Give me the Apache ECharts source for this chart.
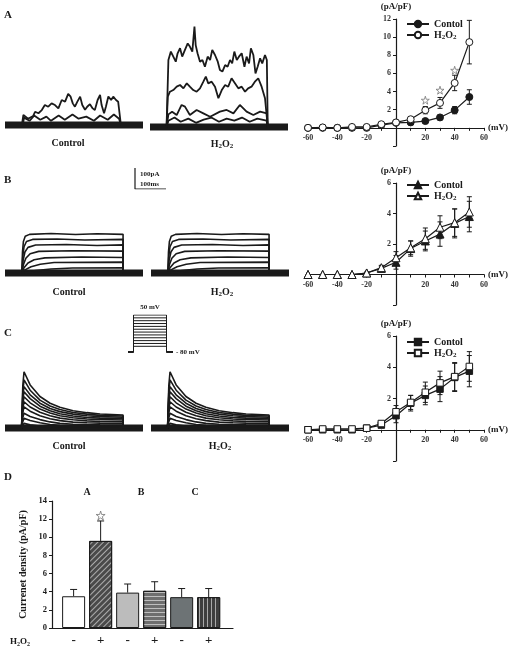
<!DOCTYPE html>
<html>
<head>
<meta charset="utf-8">
<script src="https://cdn.jsdelivr.net/npm/echarts@6/dist/echarts.min.js"></script>
<style>
  html, body { margin: 0; padding: 0; background: #fff; }
  #fig { width: 522px; height: 649px; }
</style>
</head>
<body>
<div id="fig"></div>
<script>
// ---- data ----
// I-V curves (mV vs pA/pF)
const mV = [-60, -50, -40, -30, -20, -10, 0, 10, 20, 30, 40, 50];
const ivACtrl    = [0, 0, 0, 0, 0, 0.3, 0.55, 0.6, 0.75, 1.15, 1.95, 3.4];
const ivACtrlErr = [0, 0, 0, 0, 0, 0.1, 0.1, 0.15, 0.15, 0.25, 0.4, 0.8];
const ivAH2o2    = [0, 0.05, 0, 0.1, 0.1, 0.4, 0.6, 0.95, 1.95, 2.75, 4.95, 9.45];
const ivAH2o2Err = [0, 0, 0, 0, 0, 0.1, 0.15, 0.2, 0.4, 0.6, 0.85, 2.4];
const starMV = [20, 30, 40, 50];
const starA  = [3.05, 4.15, 6.35, 12.3];

const ivBCtrl    = [0, 0, 0, 0, 0.1, 0.4, 0.8, 1.7, 2.2, 2.65, 3.35, 3.8];
const ivBCtrlErr = [0, 0, 0, 0, 0.05, 0.15, 0.45, 0.5, 0.65, 0.8, 0.95, 1.0];
const ivBH2o2    = [0, 0, 0, 0, 0.1, 0.45, 1.1, 1.75, 2.35, 3.1, 3.4, 4.1];
const ivBH2o2Err = [0, 0, 0, 0, 0.05, 0.15, 0.4, 0.45, 0.7, 0.75, 0.9, 1.0];

const ivCCtrl    = [0, 0, 0, 0, 0.1, 0.3, 0.9, 1.7, 2.2, 2.6, 3.35, 3.75];
const ivCCtrlErr = [0, 0, 0, 0, 0.05, 0.15, 0.45, 0.5, 0.6, 0.8, 0.9, 1.0];
const ivCH2o2    = [0, 0.05, 0.05, 0.05, 0.1, 0.4, 1.15, 1.75, 2.4, 3.0, 3.4, 4.05];
const ivCH2o2Err = [0, 0, 0, 0, 0.05, 0.15, 0.4, 0.45, 0.65, 0.75, 0.9, 0.95];

// bar chart D
const barSigns = ['-', '+', '-', '+', '-', '+'];
const barGroups = ['A', 'B', 'C'];
const barMeans = [3.5, 9.6, 3.9, 4.1, 3.4, 3.4];
const barErr   = [0.75, 2.2, 0.95, 1.0, 0.95, 0.95];
const barStar  = 12.4;

// current traces: [ms, pA]
const aCtrlTrace1 = [[0,0],[55,0],[60,48],[75,30],[92,43],[98,63],[109,56],[120,71],[130,95],[141,87],[152,103],[163,95],[174,79],[185,119],[196,111],[206,148],[214,135],[221,103],[228,87],[236,111],[245,135],[252,95],[261,73],[268,87],[277,99],[286,79],[293,71],[302,119],[310,143],[315,95],[323,56],[329,87],[337,136],[346,119],[353,135],[362,119],[369,111],[375,103],[378,0],[450,0]];
const aCtrlTrace2 = [[0,0],[58,0],[62,35],[80,20],[95,45],[115,25],[135,40],[150,20],[175,45],[195,25],[220,50],[240,30],[265,40],[290,20],[310,45],[335,25],[355,50],[372,30],[378,0],[450,0]];
const aH2o2Trace1 = [[0,0],[54,0],[60,319],[68,359],[76,335],[84,311],[90,351],[98,375],[105,335],[114,367],[123,398],[130,383],[138,359],[145,478],[149,390],[155,351],[163,311],[171,319],[179,287],[188,335],[196,319],[203,367],[212,343],[221,311],[228,271],[236,264],[245,295],[253,287],[261,319],[268,303],[275,359],[283,319],[290,335],[299,351],[308,287],[315,335],[323,303],[329,375],[337,343],[344,255],[351,287],[359,327],[366,303],[375,343],[381,319],[384,0],[450,0]];
const aH2o2Trace2 = [[0,0],[54,0],[58,144],[65,168],[76,176],[87,192],[98,200],[109,184],[120,208],[130,192],[141,176],[152,168],[163,184],[174,216],[182,240],[190,208],[201,216],[212,192],[223,137],[234,176],[245,200],[255,192],[266,232],[277,208],[288,184],[299,192],[310,168],[320,184],[331,192],[342,216],[353,232],[364,192],[375,137],[381,144],[384,0],[450,0]];
const aH2o2Trace3 = [[0,0],[54,0],[60,60],[72,73],[87,57],[103,105],[114,97],[130,57],[152,81],[174,65],[196,49],[228,73],[250,81],[272,65],[293,105],[315,73],[337,57],[359,73],[381,65],[384,0],[450,0]];
const aH2o2Trace4 = [[0,0],[54,0],[60,30],[80,45],[100,25],[125,40],[150,20],[175,35],[200,45],[225,25],[250,40],[275,30],[300,45],[325,25],[350,40],[380,30],[384,0],[450,0]];

const bTraces = [
  [[0,0],[55,0],[57,100],[60,150],[66,175],[80,184],[150,188],[230,183],[300,187],[385,184],[385,0],[450,0]],
  [[0,0],[55,0],[58,80],[62,125],[70,150],[90,160],[170,162],[260,157],[385,160],[385,0],[450,0]],
  [[0,0],[55,0],[59,60],[65,100],[75,122],[100,133],[200,136],[300,131],[385,134],[385,0],[450,0]],
  [[0,0],[55,0],[60,40],[68,70],[82,92],[110,103],[220,106],[385,104],[385,0],[450,0]],
  [[0,0],[55,0],[62,25],[75,48],[95,63],[130,72],[250,76],[385,74],[385,0],[450,0]],
  [[0,0],[55,0],[65,15],[85,30],[115,42],[160,50],[385,52],[385,0],[450,0]],
  [[0,0],[55,0],[70,5],[100,12],[150,19],[220,24],[385,25],[385,0],[450,0]],
  [[0,0],[55,0],[100,5],[200,9],[385,10],[385,0],[450,0]]
];

const cTraces = [
  [[0,0],[54,0],[58,200],[62,268],[82,205],[114,150],[147,118],[179,99],[222,82],[267,73],[310,67],[385,62],[385,0],[450,0]],
  [[0,0],[54,0],[58,170],[62,229],[82,180],[114,133],[147,105],[179,88],[222,74],[267,66],[310,60],[385,57],[385,0],[450,0]],
  [[0,0],[54,0],[58,150],[62,197],[82,158],[114,118],[147,93],[179,78],[222,66],[267,58],[310,54],[385,51],[385,0],[450,0]],
  [[0,0],[54,0],[58,130],[62,173],[82,140],[114,104],[147,82],[179,68],[222,57],[267,50],[310,47],[385,44],[385,0],[450,0]],
  [[0,0],[54,0],[58,110],[62,149],[82,120],[114,90],[147,71],[179,58],[222,49],[267,43],[310,40],[385,38],[385,0],[450,0]],
  [[0,0],[54,0],[58,90],[62,125],[82,100],[114,75],[147,58],[179,47],[222,39],[267,34],[310,31],[385,30],[385,0],[450,0]],
  [[0,0],[54,0],[58,75],[62,101],[82,80],[114,58],[147,44],[179,35],[222,28],[267,25],[310,23],[385,22],[385,0],[450,0]],
  [[0,0],[54,0],[58,50],[62,70],[82,55],[114,40],[147,29],[179,22],[222,18],[267,16],[310,15],[385,14],[385,0],[450,0]],
  [[0,0],[54,0],[58,30],[62,46],[82,36],[114,25],[147,17],[179,13],[222,10],[385,8],[385,0],[450,0]],
  [[0,0],[54,0],[62,22],[82,15],[114,9],[179,6],[385,4],[385,0],[450,0]]
];

// voltage protocol (mV), step timing (ms)
const holdingMV = -80;
const stepOn = 55, stepOff = 385, sweepEnd = 450;
const scaleBarPA = 100, scaleBarMS = 100;

// ---- drawing ----
const serif = '"Liberation Serif", "DejaVu Serif", serif';
const ink = '#1a1a1a';
const subRich = {
  b: { fontFamily: serif, fontWeight: 'bold', fontSize: 10, color: ink },
  s: { fontFamily: serif, fontWeight: 'bold', fontSize: 7, color: ink, verticalAlign: 'bottom', padding: [5, 0, 0, 0] }
};
const h2o2Text = '{b|H}{s|2}{b|O}{s|2}';

var fig = echarts.init(document.getElementById('fig'));

var grids = [
  { left: 5,   top: 20,  width: 138, height: 111.3 }, // 0 A control traces
  { left: 150, top: 22,  width: 138, height: 111.3 }, // 1 A H2O2 traces
  { left: 308, top: 19,  width: 176, height: 127 },   // 2 A I-V
  { left: 135, top: 168, width: 31,  height: 21 },    // 3 scale bar
  { left: 5,   top: 168, width: 138, height: 111.3 }, // 4 B control traces
  { left: 151, top: 168, width: 138, height: 111.3 }, // 5 B H2O2 traces
  { left: 308, top: 183, width: 176, height: 122 },   // 6 B I-V
  { left: 128, top: 315, width: 45,  height: 37 },    // 7 protocol
  { left: 5,   top: 323, width: 138, height: 111.3 }, // 8 C control traces
  { left: 151, top: 323, width: 138, height: 111.3 }, // 9 C H2O2 traces
  { left: 308, top: 336, width: 176, height: 125 },   // 10 C I-V
  { left: 52,  top: 501, width: 181, height: 127 }    // 11 D bars
];

var xAxes = [], yAxes = [], series = [];

function hiddenAxes(grid, xmin, xmax, ymin, ymax) {
  xAxes.push({ type: 'value', gridIndex: grid, min: xmin, max: xmax, show: false });
  yAxes.push({ type: 'value', gridIndex: grid, min: ymin, max: ymax, show: false });
  return [xAxes.length - 1, yAxes.length - 1];
}

// axes cross at (0 mV, 0 pA/pF): shift each axis into the grid by offset
function ivAxes(grid, ymax) {
  var g = grids[grid];
  var lab = { fontFamily: serif, fontWeight: 'bold', fontSize: 8, color: '#333' };
  var xMin = -60, xMax = 60, yMin = -2;
  xAxes.push({
    type: 'value', gridIndex: grid, min: xMin, max: xMax, interval: 20,
    offset: -g.height * (0 - yMin) / (ymax - yMin),
    name: '(mV)', nameLocation: 'end', nameGap: 4,
    nameTextStyle: { fontFamily: serif, fontWeight: 'bold', fontSize: 9, color: ink },
    axisLine: { onZero: false, lineStyle: { color: ink, width: 1.2 } },
    axisTick: { show: true, length: 3, lineStyle: { color: ink } },
    minorTick: { show: true, splitNumber: 2, length: 3, lineStyle: { color: ink } },
    axisLabel: Object.assign({ margin: 6, formatter: v => v === 0 ? '' : String(v) }, lab),
    splitLine: { show: false }
  });
  yAxes.push({
    type: 'value', gridIndex: grid, min: yMin, max: ymax, interval: 2,
    offset: -g.width * (0 - xMin) / (xMax - xMin),
    name: '(pA/pF)', nameLocation: 'end', nameGap: 8,
    nameTextStyle: { fontFamily: serif, fontWeight: 'bold', fontSize: 9, color: ink },
    axisLine: { onZero: false, lineStyle: { color: ink, width: 1.2 } },
    axisTick: { show: true, length: 3, lineStyle: { color: ink } },
    axisLabel: Object.assign({ margin: 5, formatter: v => v > 0 ? String(v) : '' }, lab),
    splitLine: { show: false }
  });
  return [xAxes.length - 1, yAxes.length - 1];
}

function traceSeries(ax, data, width) {
  series.push({
    type: 'line', xAxisIndex: ax[0], yAxisIndex: ax[1], data: data,
    symbol: 'none', silent: true, animation: false,
    lineStyle: { color: ink, width: width }
  });
}

function errRender(capHalf, upOnly) {
  return function (params, api) {
    var x = api.value(0), y = api.value(1), e = api.value(2);
    if (!e) return null;
    var top = api.coord([x, y + e]);
    var bot = api.coord([x, upOnly ? y : y - e]);
    var st = { stroke: ink, lineWidth: 1 };
    var kids = [
      { type: 'line', shape: { x1: top[0], y1: top[1], x2: bot[0], y2: bot[1] }, style: st },
      { type: 'line', shape: { x1: top[0] - capHalf, y1: top[1], x2: top[0] + capHalf, y2: top[1] }, style: st }
    ];
    if (!upOnly) kids.push({ type: 'line', shape: { x1: bot[0] - capHalf, y1: bot[1], x2: bot[0] + capHalf, y2: bot[1] }, style: st });
    return { type: 'group', children: kids };
  };
}

function errSeries(ax, xs, ys, es, upOnly, capHalf, z) {
  series.push({
    type: 'custom', xAxisIndex: ax[0], yAxisIndex: ax[1], silent: true, animation: false, z: z || 2,
    data: xs.map((x, i) => [x, ys[i], es[i]]),
    encode: { x: 0, y: 1 },
    renderItem: errRender(capHalf, upOnly)
  });
}

function ivSeries(ax, key, ctrl, ctrlErr, h2, h2Err, symbol, size) {
  errSeries(ax, mV, ctrl, ctrlErr, false, 2.5);
  errSeries(ax, mV, h2, h2Err, false, 2.5);
  [[key + ' Contol', ctrl, ink], [key + ' H2O2', h2, '#fff']].forEach(function (s) {
    series.push({
      name: s[0], type: 'line', xAxisIndex: ax[0], yAxisIndex: ax[1], animation: false, z: 4,
      data: mV.map((x, i) => [x, s[1][i]]),
      symbol: symbol, symbolSize: size, showSymbol: true,
      itemStyle: { color: s[2], borderColor: ink, borderWidth: 1 },
      lineStyle: { color: ink, width: 1.2 }
    });
  });
}

const starPath = 'path://M50,0 L61,35 L98,35 L68,57 L79,91 L50,70 L21,91 L32,57 L2,35 L39,35 Z';

// panel A
var axA0 = hiddenAxes(0, 0, sweepEnd, -30, 500);
traceSeries(axA0, [[0, 0], [sweepEnd, 0]], 7);
traceSeries(axA0, aCtrlTrace2, 1.8);
traceSeries(axA0, aCtrlTrace1, 1.8);
var axA1 = hiddenAxes(1, 0, sweepEnd, -30, 500);
traceSeries(axA1, [[0, 0], [sweepEnd, 0]], 7);
[aH2o2Trace4, aH2o2Trace3, aH2o2Trace2, aH2o2Trace1].forEach(d => traceSeries(axA1, d, 1.8));
var axAiv = ivAxes(2, 12);
ivSeries(axAiv, 'A', ivACtrl, ivACtrlErr, ivAH2o2, ivAH2o2Err, 'circle', 7);
series.push({
  type: 'scatter', xAxisIndex: axAiv[0], yAxisIndex: axAiv[1], silent: true, animation: false, z: 5,
  data: starMV.map((x, i) => [x, starA[i]]),
  symbol: starPath, symbolSize: 8,
  itemStyle: { color: '#fff', borderColor: '#777', borderWidth: 1 }
});

// scale bar
var axSb = hiddenAxes(3, 0, scaleBarMS, 0, scaleBarPA);
traceSeries(axSb, [[0, scaleBarPA], [0, 0], [scaleBarMS, 0]], 1.2);

// panel B
var axB0 = hiddenAxes(4, 0, sweepEnd, -30, 500);
var axB1 = hiddenAxes(5, 0, sweepEnd, -30, 500);
[axB0, axB1].forEach(function (ax) {
  traceSeries(ax, [[0, 0], [sweepEnd, 0]], 7);
  bTraces.forEach(d => traceSeries(ax, d, 1.6));
});
var axBiv = ivAxes(6, 6);
ivSeries(axBiv, 'B', ivBCtrl, ivBCtrlErr, ivBH2o2, ivBH2o2Err, 'triangle', 8);

// protocol
var axP = hiddenAxes(7, 0, sweepEnd, -80, 50);
mV.forEach(function (v) {
  traceSeries(axP, [[0, holdingMV], [stepOn, holdingMV], [stepOn, v], [stepOff, v], [stepOff, holdingMV], [sweepEnd, holdingMV]], 1);
});

// panel C
var axC0 = hiddenAxes(8, 0, sweepEnd, -30, 500);
var axC1 = hiddenAxes(9, 0, sweepEnd, -30, 500);
[axC0, axC1].forEach(function (ax) {
  traceSeries(ax, [[0, 0], [sweepEnd, 0]], 7);
  cTraces.forEach(d => traceSeries(ax, d, 1.6));
});
var axCiv = ivAxes(10, 6);
ivSeries(axCiv, 'C', ivCCtrl, ivCCtrlErr, ivCH2o2, ivCH2o2Err, 'rect', 6.5);

// panel D
var dLab = { fontFamily: serif, fontWeight: 'bold', color: ink };
xAxes.push({
  type: 'value', gridIndex: 11, min: 0.2, max: 6.9,
  axisLine: { lineStyle: { color: ink, width: 1.2 } },
  axisTick: { show: false }, splitLine: { show: false },
  axisLabel: Object.assign({ fontSize: 13, margin: 6, customValues: [1, 2, 3, 4, 5, 6], formatter: v => barSigns[Math.round(v) - 1] }, dLab)
});
var dx = xAxes.length - 1;
xAxes.push({
  type: 'value', gridIndex: 11, min: 0.2, max: 6.9, position: 'top',
  axisLine: { show: false }, axisTick: { show: false }, splitLine: { show: false },
  axisLabel: Object.assign({ fontSize: 10, margin: 4, customValues: [1.5, 3.5, 5.5], formatter: v => barGroups[Math.round((v - 1.5) / 2)] }, dLab)
});
yAxes.push({
  type: 'value', gridIndex: 11, min: 0, max: 14, interval: 2,
  name: 'Currenet density (pA/pF)', nameLocation: 'middle', nameGap: 24,
  nameTextStyle: Object.assign({ fontSize: 10 }, dLab),
  axisLine: { show: true, lineStyle: { color: ink, width: 1.2 } },
  axisTick: { show: true, length: 3, lineStyle: { color: ink } },
  axisLabel: Object.assign({ fontSize: 8.5, margin: 5 }, dLab),
  splitLine: { show: false }
});
var dy = yAxes.length - 1;

var stripe = function (rot) {
  return { symbol: 'rect', symbolSize: 1, color: 'rgba(255,255,255,0.55)', dashArrayX: [1, 0], dashArrayY: [1, 2.5], rotation: rot };
};
var barStyles = [
  { color: '#fff' },
  { color: '#4a4a4a', decal: stripe(-Math.PI / 4) },
  { color: '#bcbcbc' },
  { color: '#6e6e6e', decal: stripe(0) },
  { color: '#6d7375' },
  { color: '#3e3e3e', decal: stripe(Math.PI / 2) }
];
series.push({
  type: 'bar', xAxisIndex: dx, yAxisIndex: dy, barWidth: 23, animation: false, z: 3,
  data: barMeans.map((v, i) => ({
    value: [i + 1, v],
    itemStyle: Object.assign({ borderColor: ink, borderWidth: 1 }, barStyles[i])
  }))
});
errSeries([dx, dy], barMeans.map((v, i) => i + 1), barMeans, barErr, true, 3.5, 2);
series.push({
  type: 'scatter', xAxisIndex: dx, yAxisIndex: dy, silent: true, animation: false, z: 5,
  data: [[2, barStar]], symbol: starPath, symbolSize: 9,
  itemStyle: { color: '#fff', borderColor: '#777', borderWidth: 1 }
});

// legends
function ivLegend(key, top) {
  return {
    data: [key + ' Contol', key + ' H2O2'], orient: 'vertical', left: 401, top: top,
    itemWidth: 22, itemHeight: 8, itemGap: 1, selectedMode: false,
    formatter: function (n) { n = n.slice(2); return n === 'H2O2' ? h2o2Text : '{b|' + n + '}'; },
    textStyle: { fontFamily: serif, fontWeight: 'bold', fontSize: 10, color: ink, rich: subRich }
  };
}

// text labels
function txt(x, y, text, size, align, rich) {
  var st = { text: text, font: 'bold ' + size + 'px ' + serif, fill: ink, align: align || 'center', verticalAlign: 'middle' };
  if (rich) st.rich = rich;
  return { type: 'text', x: x, y: y, style: st, silent: true };
}
var graphics = [
  txt(4, 15, 'A', 11, 'left'),
  txt(4, 180, 'B', 11, 'left'),
  txt(4, 333, 'C', 11, 'left'),
  txt(4, 477, 'D', 11, 'left'),
  txt(68, 143, 'Control', 10),
  txt(222, 144, h2o2Text, 10, 'center', subRich),
  txt(69, 292, 'Control', 10),
  txt(222, 292, h2o2Text, 10, 'center', subRich),
  txt(69, 446, 'Control', 10),
  txt(220, 446, h2o2Text, 10, 'center', subRich),
  txt(140, 174, '100pA', 7, 'left'),
  txt(140, 184, '100ms', 7, 'left'),
  txt(150, 307, '50 mV', 7),
  txt(176, 352, '- 80 mV', 7, 'left'),
  txt(10, 642, h2o2Text, 9, 'left', {
    b: { fontFamily: serif, fontWeight: 'bold', fontSize: 9, color: ink },
    s: { fontFamily: serif, fontWeight: 'bold', fontSize: 6, color: ink, verticalAlign: 'bottom', padding: [4, 0, 0, 0] }
  })
];

fig.setOption({
  animation: false,
  backgroundColor: '#fff',
  grid: grids,
  xAxis: xAxes,
  yAxis: yAxes,
  legend: [ivLegend('A', 14), ivLegend('B', 175), ivLegend('C', 332)],
  graphic: graphics,
  series: series
});
</script>
</body>
</html>
